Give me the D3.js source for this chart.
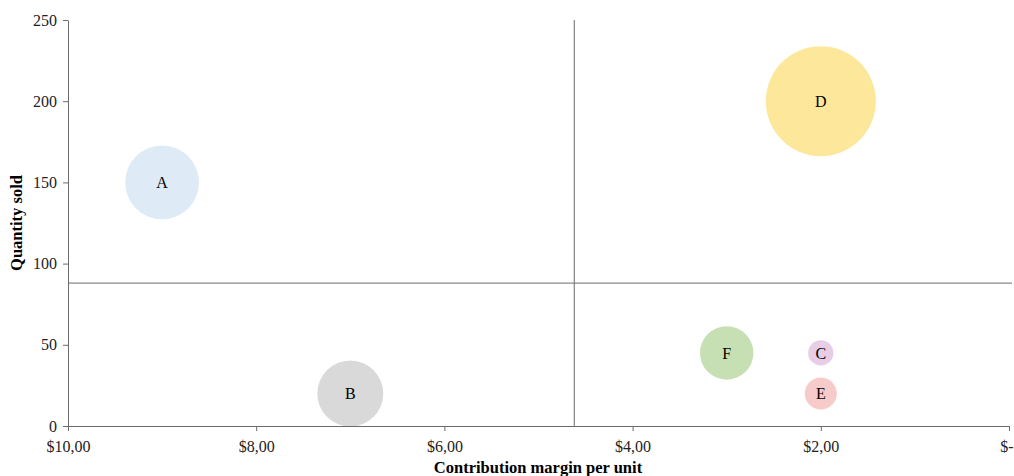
<!DOCTYPE html>
<html>
<head>
<meta charset="utf-8">
<script src="https://cdn.jsdelivr.net/npm/d3@7"></script>
<style>
  body { margin: 0; background: #fff; }
  svg { display: block; font-family: "Liberation Serif", "Times New Roman", serif; }
</style>
</head>
<body>
<div id="chart"></div>
<script>
// products, contribution margin per unit, quantity sold, bubble size
const products = ["A", "B", "C", "D", "E", "F"]
const margins = [9, 7, 2, 2, 2, 3]
const quantities = [150, 20, 45, 200, 20, 45]
const sizes = [450, 360, 53, 1000, 85, 236]
const colors = ["#deebf7", "#d9d9d9", "#e8cde6", "#fde79a", "#f8cbcb", "#c6e0b4"]

// quadrant split lines
const avgMargin = 4.62
const avgQuantity = 88

const xTicks = [10, 8, 6, 4, 2, 0]
const yTicks = [0, 50, 100, 150, 200, 250]

const width = 1014, height = 476
const margin = {top: 20, right: 5, bottom: 50, left: 68}

const svg = d3.select("#chart").append("svg")
  .attr("width", width)
  .attr("height", height)

const x = d3.scaleLinear()
  .domain([10, 0])
  .range([margin.left, 1009])
const y = d3.scaleLinear()
  .domain([0, 250])
  .range([426, margin.top])
const r = d3.scaleSqrt()
  .domain([0, d3.max(sizes)])
  .range([0, 55])

const data = products.map((p, i) => ({
  name: p, margin: margins[i], qty: quantities[i], size: sizes[i], color: colors[i]
}))

const fmt = d => d === 0 ? "$-" : "$" + d.toFixed(2).replace(".", ",")

// bubbles (drawn first so the axes sit on top)
svg.append("g")
  .selectAll("circle")
  .data(data)
  .join("circle")
    .attr("cx", d => x(d.margin))
    .attr("cy", d => y(d.qty))
    .attr("r", d => r(d.size))
    .attr("fill", d => d.color)

svg.append("g")
  .selectAll("text")
  .data(data)
  .join("text")
    .attr("x", d => x(d.margin))
    .attr("y", d => y(d.qty))
    .attr("dy", "0.35em")
    .attr("text-anchor", "middle")
    .style("font-size", "16px")
    .attr("fill", "#000")
    .text(d => d.name)

// quadrant lines
svg.append("line")
  .attr("x1", margin.left).attr("x2", 1012)
  .attr("y1", y(avgQuantity)).attr("y2", y(avgQuantity))
  .attr("stroke", "#6b6b6b")
svg.append("line")
  .attr("x1", x(avgMargin)).attr("x2", x(avgMargin))
  .attr("y1", y(250)).attr("y2", y(0))
  .attr("stroke", "#6b6b6b")

// axes
const xAxis = svg.append("g")
  .attr("transform", `translate(0, ${y(0)})`)
  .call(d3.axisBottom(x).tickValues(xTicks).tickFormat(fmt).tickSize(5).tickSizeOuter(0))
const yAxis = svg.append("g")
  .attr("transform", `translate(${margin.left}, 0)`)
  .call(d3.axisLeft(y).tickValues(yTicks).tickSize(5).tickSizeOuter(0))

;[xAxis, yAxis].forEach(a => {
  a.selectAll("path, line").attr("stroke", "#6b6b6b")
  a.selectAll("text")
    .style("font-family", "Liberation Serif, serif")
    .style("font-size", "16px")
    .attr("fill", "#222")
})
xAxis.selectAll("text").attr("dy", "1.15em")
// last label sits at the right edge
xAxis.selectAll(".tick").filter(d => d === 0).select("text")
  .attr("text-anchor", "end")
  .attr("x", 4)
yAxis.selectAll("text").attr("x", -11)

// axis titles
svg.append("text")
  .attr("x", 538)
  .attr("y", 473)
  .attr("text-anchor", "middle")
  .style("font-size", "16.5px")
  .style("font-weight", "bold")
  .text("Contribution margin per unit")

svg.append("text")
  .attr("transform", `translate(22, ${y(125)}) rotate(-90)`)
  .attr("text-anchor", "middle")
  .style("font-size", "16.5px")
  .style("font-weight", "bold")
  .text("Quantity sold")
</script>
</body>
</html>
